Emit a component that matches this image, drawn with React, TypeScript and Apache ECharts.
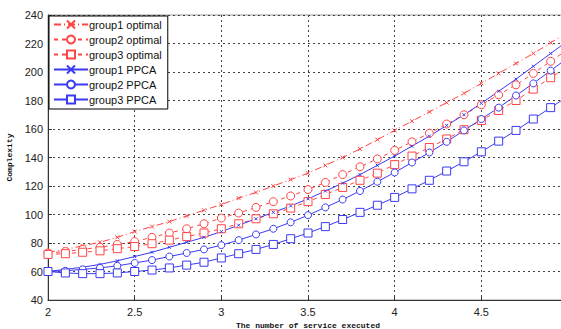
import React, { useEffect, useRef } from "react";
import * as echarts from "echarts";

const xs = [2.0, 2.1, 2.2, 2.3, 2.4, 2.5, 2.6, 2.7, 2.8, 2.9, 3.0, 3.1, 3.2, 3.3, 3.4, 3.5, 3.6, 3.7, 3.8, 3.9, 4.0, 4.1, 4.2, 4.3, 4.4, 4.5, 4.6, 4.7, 4.8, 4.9, 5.0];

const group1Optimal = [73.5, 75.5, 78, 80.5, 84, 88, 91.5, 95, 99, 103, 107, 111.5, 115.5, 120, 124.5, 129, 134.5, 140, 146, 152.5, 159, 165.5, 172, 178.5, 185, 192, 199, 206, 213, 220.5, 228];
const group2Optimal = [73, 74, 75.5, 77, 79, 81, 84, 87, 90, 93.5, 97.5, 101, 105, 109, 113, 117.5, 122.5, 128, 133.5, 139, 145, 151, 157, 163.5, 170, 177, 184, 191, 199, 207.5, 216];
const group3Optimal = [72, 72.5, 73.5, 74.5, 76, 77.5, 79.5, 82, 84.5, 87, 90, 93.5, 97, 100.5, 104.5, 109, 114, 119, 124, 129, 135, 141, 147, 153, 159.5, 166, 173, 180, 188, 196, 204];
const group1PPCA = [60, 61.5, 63, 65, 67.5, 70.5, 73.5, 77, 80.5, 84, 88, 92.5, 97, 101.5, 106, 111, 116.5, 122, 128, 134.5, 141, 148, 155, 162.5, 170, 178, 186.5, 195, 204, 213, 222];
const group2PPCA = [60, 60.5, 61.5, 62.5, 64, 66, 68, 70.5, 73, 75.5, 78.5, 82, 86, 90, 94.5, 99.5, 105, 110.5, 116.5, 123, 129.5, 136.5, 143.5, 151, 159, 167, 175, 183.5, 192, 201, 210];
const group3PPCA = [60, 59, 58.5, 58.5, 59, 60, 61, 62.5, 64.5, 66.5, 69.5, 72.5, 75.5, 79, 83, 87, 91.5, 96.5, 101.5, 106.5, 112, 118, 124, 130.5, 137, 144, 151.5, 159, 167, 175, 183];

const seriesNames = ["group1 optimal", "group2 optimal", "group3 optimal", "group1 PPCA", "group2 PPCA", "group3 PPCA"];

const RED = "#ff4444";
const BLUE = "#3a3af2";
const CROSS = "path://M0 0L10 10M10 0L0 10";

export default function App() {
  const ref = useRef<HTMLDivElement>(null);
  useEffect(() => {
    if (!ref.current) return;
    const chart = echarts.init(ref.current, null, { renderer: "svg" });
    const pair = (arr: number[]) => xs.map((x, i) => [x, arr[i]]);
    const mk = (name: string, data: number[], color: string, dash: any, symbol: string, size: number) => ({
      name,
      type: "line",
      data: pair(data),
      symbol,
      symbolSize: size,
      showSymbol: true,
      lineStyle: { color, width: 1, type: dash },
      itemStyle: { color: symbol === CROSS ? color : "#fff", borderColor: color, borderWidth: 1 },
      emphasis: { disabled: true },
    });
    chart.setOption({
      animation: false,
      backgroundColor: "#fff",
      grid: { left: 48, top: 15, right: -7, bottom: 29, show: true, borderColor: "#999", borderWidth: 1, outerBoundsMode: "none", containLabel: false },
      legend: {
        left: 49,
        top: 16,
        orient: "vertical",
        backgroundColor: "#fff",
        borderColor: "#000",
        borderWidth: 1,
        padding: [3, 6, 4, 4],
        itemGap: 4,
        itemWidth: 34,
        itemHeight: 10,
        textStyle: { fontFamily: "Liberation Sans, Arial", fontSize: 11, color: "#111", padding: [0, 0, 0, -4] },
        data: seriesNames,
      },
      xAxis: {
        type: "value",
        min: 2,
        max: 5,
        interval: 0.5,
        name: "The number of service executed",
        nameLocation: "middle",
        nameGap: 20,
        nameTextStyle: { fontFamily: "Liberation Mono, Courier New, monospace", fontSize: 8, color: "#111", fontWeight: "bold" },
        axisLine: { lineStyle: { color: "#333", width: 1 } },
        axisTick: { inside: true, length: 4, lineStyle: { color: "#333" } },
        axisLabel: { fontFamily: "Liberation Sans, Arial", fontSize: 11, color: "#222", margin: 6, showMaxLabel: false },
        splitLine: { show: true, lineStyle: { color: "#444", type: [2, 3], width: 1 } },
      },
      yAxis: {
        type: "value",
        min: 40,
        max: 240,
        interval: 20,
        name: "Complexity",
        nameLocation: "middle",
        nameGap: 32,
        nameTextStyle: { fontFamily: "Liberation Mono, Courier New, monospace", fontSize: 8, color: "#111", fontWeight: "bold" },
        axisLine: { show: true, lineStyle: { color: "#333", width: 1 } },
        axisTick: { show: true, inside: true, length: 4, lineStyle: { color: "#333" } },
        axisLabel: { fontFamily: "Liberation Sans, Arial", fontSize: 11, color: "#222", margin: 5 },
        splitLine: { show: true, lineStyle: { color: "#444", type: [2, 3], width: 1 } },
      },
      series: [
        mk(seriesNames[0], group1Optimal, RED, [7, 3, 1, 3], CROSS, 4),
        mk(seriesNames[1], group2Optimal, RED, [4, 4], "circle", 8),
        mk(seriesNames[2], group3Optimal, RED, [4, 4], "rect", 8),
        mk(seriesNames[3], group1PPCA, BLUE, "solid", CROSS, 3),
        mk(seriesNames[4], group2PPCA, BLUE, "solid", "circle", 7),
        mk(seriesNames[5], group3PPCA, BLUE, "solid", "rect", 8),
      ],
    });
    return () => chart.dispose();
  }, []);
  return <div ref={ref} style={{ position: "fixed", left: 0, top: 0, width: 561, height: 329 }} />;
}
